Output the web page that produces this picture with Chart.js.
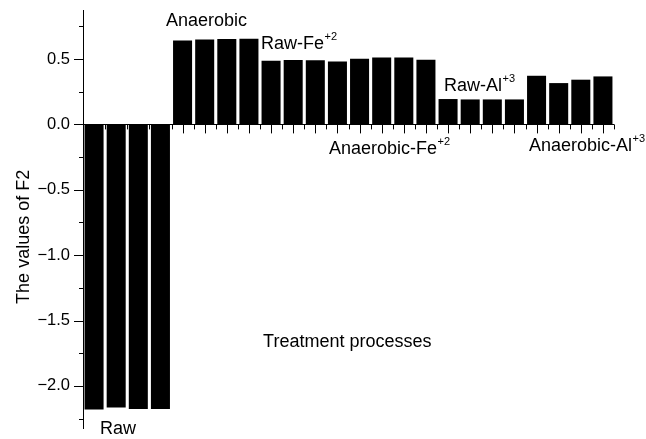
<!DOCTYPE html>
<html>
<head>
<meta charset="utf-8">
<script src="https://cdn.jsdelivr.net/npm/chart.js@4/dist/chart.umd.min.js"></script>
<style>
  html, body { margin: 0; padding: 0; background: #fff; }
  #wrap { width: 646px; height: 439px; }
</style>
</head>
<body>
<div id="wrap"><canvas id="c" width="646" height="439"></canvas></div>
<script>
// F2 scores, four replicates per treatment process
const groupNames = ['Raw', 'Anaerobic', 'Raw-Fe', 'Anaerobic-Fe', 'Raw-Al', 'Anaerobic-Al'];
const rawValues = [-2.180, -2.165, -2.177, -2.177];
const anaerobicValues = [0.642, 0.650, 0.653, 0.656];
const rawFeValues = [0.487, 0.492, 0.490, 0.482];
const anaerobicFeValues = [0.503, 0.511, 0.511, 0.495];
const rawAlValues = [0.194, 0.191, 0.191, 0.191];
const anaerobicAlValues = [0.372, 0.316, 0.342, 0.367];

// y axis tick values
const yMajorTicks = [-2.0, -1.5, -1.0, -0.5, 0.0, 0.5];
const yMinorTicks = [-2.25, -1.75, -1.25, -0.75, -0.25, 0.25, 0.75];

// group captions (main text + superscript charge)
const groupLabelText = ['Raw', 'Anaerobic', 'Raw-Fe', 'Anaerobic-Fe', 'Raw-Al', 'Anaerobic-Al'];
const groupLabelSup = ['', '', '+2', '+2', '+3', '+3'];
const xTitle = 'Treatment processes';
const yTitle = 'The values of F2';

// caption anchors in data space: [category position, value at text baseline]
const groupLabelAnchors = [[0.27, -2.365], [3.25, 0.754], [7.55, 0.578], [10.62, -0.226], [15.82, 0.252], [19.66, -0.201]];
const xTitleAnchor = [7.64, -1.70];

const seriesByGroup = [rawValues, anaerobicValues, rawFeValues, anaerobicFeValues, rawAlValues, anaerobicAlValues];
const categories = [];
const values = [];
seriesByGroup.forEach((arr, g) => {
  arr.forEach((v, k) => { categories.push(groupNames[g] + ' ' + (k + 1)); values.push(v); });
});

const FONT = '"Liberation Sans", Arial, Helvetica, sans-serif';

const decorations = {
  id: 'decorations',
  afterDatasetsDraw(chart) {
    const ctx = chart.ctx;
    const xs = chart.scales.x, ys = chart.scales.y;
    const area = chart.chartArea;
    const y0 = ys.getPixelForValue(0);
    ctx.save();
    ctx.strokeStyle = '#000';
    ctx.lineWidth = 1;

    // horizontal axis through zero
    ctx.beginPath();
    ctx.moveTo(area.left, Math.round(y0) + 0.5);
    ctx.lineTo(area.right, Math.round(y0) + 0.5);
    ctx.stroke();

    // x ticks: long at category centres, short at category edges
    ctx.beginPath();
    for (let i = 0; i < categories.length; i++) {
      const xc = Math.round(xs.getPixelForValue(i)) + 0.5;
      ctx.moveTo(xc, y0); ctx.lineTo(xc, y0 + 9);
    }
    for (let i = 0; i <= categories.length; i++) {
      const xe = Math.round(xs.getPixelForValue(i - 0.5)) + 0.5;
      ctx.moveTo(xe, y0); ctx.lineTo(xe, y0 + 5);
    }
    ctx.stroke();

    // y ticks pointing outward
    ctx.beginPath();
    yMajorTicks.forEach(v => {
      const y = Math.round(ys.getPixelForValue(v)) + 0.5;
      ctx.moveTo(area.left, y); ctx.lineTo(area.left - 9, y);
    });
    yMinorTicks.forEach(v => {
      const y = Math.round(ys.getPixelForValue(v)) + 0.5;
      ctx.moveTo(area.left, y); ctx.lineTo(area.left - 4, y);
    });
    ctx.stroke();

    // group captions
    ctx.fillStyle = '#000';
    ctx.textAlign = 'left';
    ctx.textBaseline = 'alphabetic';
    groupLabelText.forEach((t, i) => {
      const [cx, cv] = groupLabelAnchors[i];
      const x = xs.getPixelForValue(cx);
      const y = ys.getPixelForValue(cv);
      ctx.font = '18px ' + FONT;
      ctx.fillText(t, x, y);
      if (groupLabelSup[i]) {
        const w = ctx.measureText(t).width;
        ctx.font = '11px ' + FONT;
        ctx.fillText(groupLabelSup[i], x + w + 0.5, y - 9);
      }
    });

    // axis titles
    ctx.font = '18px ' + FONT;
    ctx.fillText(xTitle, xs.getPixelForValue(xTitleAnchor[0]), ys.getPixelForValue(xTitleAnchor[1]));

    ctx.save();
    ctx.translate(area.left - 54, ys.getPixelForValue(-0.86));
    ctx.rotate(-Math.PI / 2);
    ctx.textAlign = 'center';
    ctx.fillText(yTitle, 0, 0);
    ctx.restore();

    ctx.restore();
  }
};

new Chart(document.getElementById('c'), {
  type: 'bar',
  data: {
    labels: categories,
    datasets: [{
      data: values,
      backgroundColor: '#000',
      borderWidth: 0,
      barPercentage: 0.86,
      categoryPercentage: 1.0
    }]
  },
  options: {
    responsive: false,
    animation: false,
    devicePixelRatio: 1,
    layout: { padding: { left: 0, right: 32, top: 10, bottom: 11 } },
    plugins: { legend: { display: false }, tooltip: { enabled: false } },
    scales: {
      x: { display: false },
      y: {
        min: -2.322,
        max: 0.875,
        afterFit(scale) { scale.width = 83; },
        afterBuildTicks(scale) { scale.ticks = yMajorTicks.map(v => ({ value: v })); },
        grid: { display: false, drawTicks: true, tickLength: 13 },
        border: { display: true, color: '#000', width: 1 },
        ticks: {
          color: '#000',
          padding: 0,
          font: { family: FONT, size: 16.5 },
          callback: (v) => Number(v).toFixed(1).replace('-', '\u2212')
        }
      }
    }
  },
  plugins: [decorations]
});
</script>
</body>
</html>
